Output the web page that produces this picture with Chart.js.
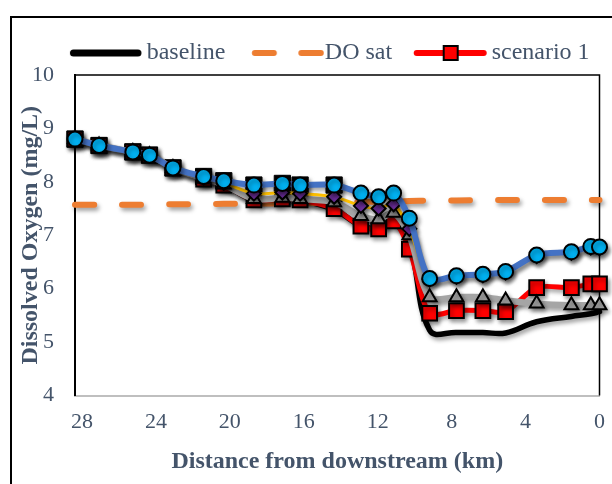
<!DOCTYPE html>
<html><head><meta charset="utf-8">
<script src="https://cdn.jsdelivr.net/npm/chart.js@4"></script>
<style>
html,body{margin:0;padding:0;background:#fff;overflow:hidden}
#wrap{position:absolute;left:0;top:0;width:612px;height:484px}
</style></head><body>
<div id="wrap"><canvas id="c"></canvas></div>
<script>
// ---- data ----
const distanceKm = [28.38, 27.08, 25.25, 24.35, 23.08, 21.42, 20.33, 18.70, 17.16, 16.20, 14.36, 12.91, 11.95, 11.14, 10.29, 9.19, 7.74, 6.31, 5.08, 3.40, 1.52, 0.47, 0];
const baseline  = [8.80, 8.68, 8.56, 8.50, 8.26, 8.05, 7.94, 7.66, 7.68, 7.66, 7.48, 7.18, 7.12, 7.22, 6.85, 5.22, 5.18, 5.18, 5.17, 5.38, 5.48, 5.53, 5.57];
const doSat     = [7.57, 7.57, 7.57, 7.57, 7.58, 7.58, 7.59, 7.59, 7.60, 7.60, 7.61, 7.62, 7.63, 7.63, 7.64, 7.65, 7.65, 7.66, 7.66, 7.66, 7.66, 7.66, 7.66];
const scenario1 = [8.80, 8.68, 8.56, 8.50, 8.26, 8.05, 7.94, 7.66, 7.68, 7.66, 7.50, 7.17, 7.12, 7.27, 6.74, 5.54, 5.59, 5.59, 5.57, 6.02, 6.02, 6.09, 6.09];
const scenario2 = [8.80, 8.68, 8.56, 8.50, 8.26, 8.06, 7.95, 7.68, 7.70, 7.68, 7.62, 7.36, 7.30, 7.42, 7.00, 5.84, 5.84, 5.84, 5.78, 5.72, 5.69, 5.69, 5.69];
const scenario3 = [8.80, 8.68, 8.56, 8.50, 8.26, 8.08, 7.98, 7.78, 7.80, 7.78, 7.72, 7.55, 7.50, 7.58, 7.12, 6.17, 6.22, 6.25, 6.30, 6.61, 6.67, 6.77, 6.76];
const scenario4 = [8.80, 8.68, 8.56, 8.50, 8.26, 8.10, 8.02, 7.94, 7.97, 7.94, 7.94, 7.79, 7.72, 7.79, 7.32, 6.19, 6.24, 6.27, 6.32, 6.63, 6.69, 6.79, 6.78];
const scenario5 = [8.80, 8.68, 8.56, 8.50, 8.26, 8.10, 8.02, 7.94, 7.97, 7.94, 7.94, null, null, null, null, null, null, null, null, null, null, null, null];
const xTicks = [28, 24, 20, 16, 12, 8, 4, 0];
const yTicks = [4, 5, 6, 7, 8, 9, 10];
const seriesNames = ['baseline', 'DO sat', 'scenario 1', 'scenario 2', 'scenario 3', 'scenario 4', 'scenario 5'];
const xTitle = 'Distance from downstream (km)';
const yTitle = 'Dissolved Oxygen (mg/L)';

// ---- styling ----
const TXT = '#44546A';
const FONT = "'Liberation Serif', 'Times New Roman', serif";

function pts(arr) { return distanceKm.map((x, i) => ({x: x, y: arr[i]})); }

function sampleCanvas(draw) {
  const c = document.createElement('canvas');
  c.width = 100; c.height = 24;
  const g = c.getContext('2d');
  g.lineCap = 'round';
  draw(g);
  return c;
}
const legendSamples = [
  sampleCanvas(g => { g.strokeStyle = '#000'; g.lineWidth = 7; g.beginPath(); g.moveTo(27.5, 12); g.lineTo(92, 12); g.stroke(); }),
  sampleCanvas(g => { g.strokeStyle = '#ED7D31'; g.lineWidth = 6; g.beginPath(); g.moveTo(30.75, 12); g.lineTo(49.75, 12); g.moveTo(77.25, 12); g.lineTo(96.75, 12); g.stroke(); }),
  sampleCanvas(g => { g.strokeStyle = '#FF0000'; g.lineWidth = 6; g.beginPath(); g.moveTo(25.75, 12); g.lineTo(92.75, 12); g.stroke();
    g.fillStyle = '#FF0000'; g.fillRect(52.75, 5, 14, 14); g.strokeStyle = '#000'; g.lineWidth = 2; g.strokeRect(52.75, 5, 14, 14); })
];

const shadowPlugin = {
  id: 'shadowPlugin',
  beforeDatasetDraw(chart) {
    const ctx = chart.ctx; ctx.save();
    ctx.shadowColor = 'rgba(0,0,0,0.38)'; ctx.shadowBlur = 4; ctx.shadowOffsetX = 2; ctx.shadowOffsetY = 3;
  },
  afterDatasetDraw(chart) { chart.ctx.restore(); }
};
const framePlugin = {
  id: 'framePlugin',
  beforeDatasetsDraw(chart) {
    const {ctx, chartArea: a} = chart;
    ctx.save(); ctx.strokeStyle = '#000'; ctx.lineWidth = 1.5;
    ctx.beginPath(); ctx.moveTo(a.left, a.top); ctx.lineTo(a.right, a.top); ctx.lineTo(a.right, a.bottom); ctx.stroke();
    ctx.restore();
  },
  afterDraw(chart) {
    const ctx = chart.ctx;
    ctx.save(); ctx.strokeStyle = '#000'; ctx.lineWidth = 2;
    ctx.beginPath(); ctx.moveTo(11, 490); ctx.lineTo(11, 17); ctx.lineTo(620, 17); ctx.stroke();
    ctx.restore();
  }
};

const datasets = [
  {label: seriesNames[5], data: pts(scenario4), borderColor: '#4472C4', borderWidth: 6, tension: 0.3,
   pointStyle: 'circle', pointRadius: 7.5, pointBackgroundColor: '#00B0F0', pointBorderColor: '#000', pointBorderWidth: 2, order: 1},
  {label: seriesNames[4], data: pts(scenario3), borderColor: '#FFC000', borderWidth: 3, tension: 0.3,
   pointStyle: 'rectRot', pointRadius: 7, pointBackgroundColor: '#7030A0', pointBorderColor: '#000', pointBorderWidth: 2, order: 2},
  {label: seriesNames[3], data: pts(scenario2), borderColor: '#A5A5A5', borderWidth: 6.5, tension: 0.3,
   pointStyle: 'triangle', pointRadius: 8, pointBackgroundColor: '#A5A5A5', pointBorderColor: '#000', pointBorderWidth: 2, order: 3},
  {label: seriesNames[2], data: pts(scenario1), borderColor: '#FF0000', borderWidth: 5, tension: 0.3,
   pointStyle: 'rect', pointRadius: 10.4, pointBackgroundColor: '#FF0000', pointBorderColor: '#000', pointBorderWidth: 2, order: 4},
  {label: seriesNames[1], data: pts(doSat), borderColor: '#ED7D31', borderWidth: 6, borderDash: [19, 28], borderCapStyle: 'round', tension: 0.3,
   pointRadius: 0, order: 5},
  {label: seriesNames[6], data: pts(scenario5), showLine: false,
   pointStyle: 'rect', pointRadius: 11.5, pointBackgroundColor: '#000', pointBorderColor: '#000', pointBorderWidth: 1, order: 6},
  {label: seriesNames[0], data: pts(baseline), borderColor: '#000', borderWidth: 5.5, tension: 0.4, borderCapStyle: 'round',
   pointRadius: 0, order: 7}
];
datasets.forEach(d => { d.clip = false; d.pointHoverRadius = d.pointRadius; d.fill = false; });

new Chart(document.getElementById('c'), {
  type: 'line',
  data: {datasets: datasets},
  plugins: [shadowPlugin, framePlugin],
  options: {
    responsive: true, maintainAspectRatio: false, animation: false, devicePixelRatio: 1,
    layout: {padding: {left: 12, right: 12.4, top: 31, bottom: 0}},
    plugins: {
      tooltip: {enabled: false},
      legend: {
        position: 'top', align: 'end',
        labels: {
          usePointStyle: true, pointStyleWidth: 77.5, padding: 10, color: TXT,
          font: {family: FONT, size: 24},
          generateLabels: () => [0, 1, 2].map(i => ({
            text: seriesNames[i], pointStyle: legendSamples[i], fillStyle: 'rgba(0,0,0,0)',
            strokeStyle: 'rgba(0,0,0,0)', lineWidth: 0, hidden: false, fontColor: TXT, datasetIndex: i
          }))
        }
      }
    },
    scales: {
      x: {
        type: 'linear', position: 'bottom', reverse: true, min: 0, max: 28.38,
        afterBuildTicks: s => { s.ticks = xTicks.map(v => ({value: v})); },
        afterFit: s => { s.height = 88.5; },
        grid: {display: false, drawTicks: true, tickLength: 14},
        border: {display: true, color: '#BFBFBF', width: 2},
        ticks: {color: TXT, font: {family: FONT, size: 22}, padding: 0, maxRotation: 0, autoSkip: false},
        title: {display: true, text: xTitle, color: TXT, font: {family: FONT, size: 24, weight: 'bold'}, padding: {top: 0, bottom: 7.6}}
      },
      y: {
        position: 'left', min: 4, max: 10,
        afterBuildTicks: s => { s.ticks = yTicks.map(v => ({value: v})); },
        afterFit: s => { s.width = 63; },
        grid: {display: false, drawTicks: true, tickLength: 21},
        border: {display: true, color: '#000', width: 2},
        ticks: {color: TXT, font: {family: FONT, size: 22}, padding: 0},
        title: {display: true, text: yTitle, color: TXT, font: {family: FONT, size: 24, weight: 'bold'}, padding: {top: 4, bottom: 0}}
      }
    }
  }
});
</script>
</body></html>
